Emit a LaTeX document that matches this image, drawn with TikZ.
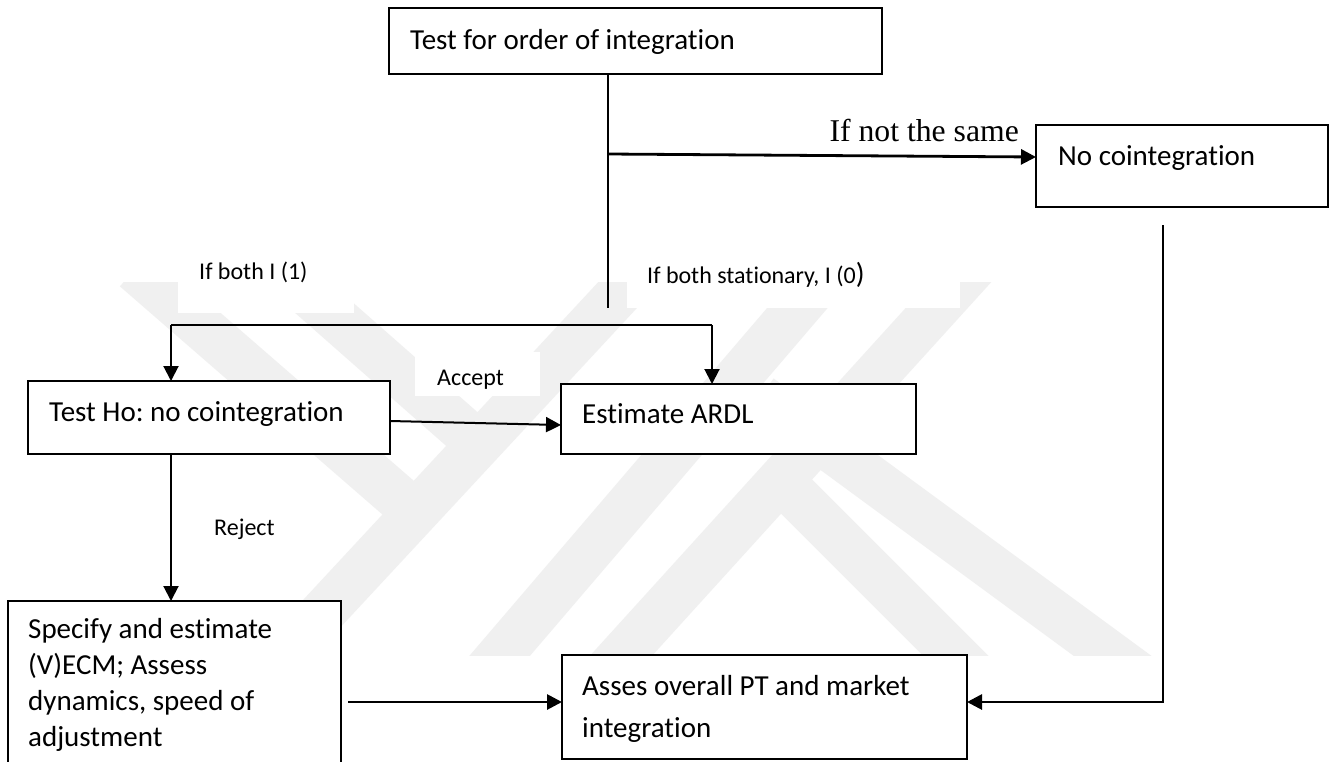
\documentclass[tikz,border=0pt]{standalone}
\usepackage{fontspec}
\setmainfont{Carlito}[Ligatures=NoCommon]
\newfontfamily\tnr{Liberation Serif}
\usetikzlibrary{arrows.meta}
\begin{document}
\frenchspacing
\begin{tikzpicture}[x=1pt,y=-1pt,
  box/.style={draw=black,line width=2pt,fill=white,inner sep=0pt,outer sep=0pt,anchor=north west},
  boxtxt/.style={font=\fontsize{29}{35.7}\selectfont,inner sep=0pt,anchor=base west,align=left},
  lbl/.style={font=\fontsize{24}{29}\selectfont,inner sep=0pt,anchor=base west},
  arr/.style={line width=2pt,-{Triangle[length=15pt,width=15pt]}},
  arrthick/.style={line width=2.8pt,-{Triangle[length=15pt,width=15pt]}},
  conn/.style={line width=2pt},
  wm/.style={draw=black!6,line width=46pt,line cap=butt}]
\useasboundingbox (0,0) rectangle (1330,761);
\clip (0,0) rectangle (1330,761);
\fill[white] (0,0) rectangle (1330,761);

% faint watermark
\begin{scope}
\clip (0,282) rectangle (1330,655);
\draw[wm] (262,678) -- (652,258);
\draw[wm] (479,680) -- (841,257);
\draw[wm] (599,680) -- (983,257);
\draw[wm] (135,269) -- (425,521);
\draw[wm] (280,269) -- (480,445);
\draw[wm] (760,397) -- (1140,676);
\draw[wm] (780,480) -- (975,675);
\end{scope}
\fill[white] (178,245) rectangle (354,313);
\fill[white] (627,245) rectangle (960,308);
\fill[white] (415,352) rectangle (540,396);

% boxes
\node[box,minimum width=493pt,minimum height=66pt] (top) at (389,8) {};
\node[box,minimum width=292pt,minimum height=82pt] (nocoint) at (1036,125) {};
\node[box,minimum width=362pt,minimum height=73pt] (testho) at (28,381) {};
\node[box,minimum width=355pt,minimum height=70pt] (ardl) at (561,384) {};
\node[box,minimum width=333pt,minimum height=220pt] (specify) at (8,601) {};
\node[box,minimum width=405pt,minimum height=104pt] (asses) at (562,655) {};

% box texts
\node[boxtxt] (toptxt) at (410,49) {Test for order of integration};
\node[boxtxt] (nocointtxt) at (1058,165) {No cointegration};
\node[boxtxt] (testhotxt) at (49,421) {Test Ho: no cointegration};
\node[boxtxt] (ardltxt) at (582,423) {Estimate ARDL};
\node[boxtxt] (specifytxt) at (28,746) {Specify and estimate\\(V)ECM; Assess\\dynamics, speed of\\adjustment};
\node[boxtxt,font=\fontsize{29}{42}\selectfont] (assestxt) at (582,737) {Asses overall PT and market\\integration};

% labels
\node[lbl] (l1) at (199,279) {If both I (1)};
\node[lbl] (l0) at (647,283) {If both stationary, I (0{\fontsize{29}{30}\selectfont)}};
\node[lbl] (lacc) at (437,385) {Accept};
\node[lbl] (lrej) at (214,535) {Reject};
\node[font=\tnr\fontsize{31.7}{38}\selectfont,inner sep=0pt,anchor=base east] (lnot) at (1019,141) {If not the same};

% coordinates
\coordinate (vtop) at (608,308);
\coordinate (vfork) at (608,154);
\coordinate (sl) at (171,325);
\coordinate (sr) at (712,325);
\coordinate (sa) at (348,702);
\coordinate (nc) at (1163,225);

% connectors
\draw[conn] (top.south -| vtop) -- (vtop);
\draw[arrthick] (vfork) -- ([yshift=-3pt]nocoint.west |- vfork);
\draw[conn] (sl) -- (sr);
\draw[arr] (sl) -- (sl |- testho.north);
\draw[arr] (sr) -- (sr |- ardl.north);
\draw[arr] ([yshift=-3.5pt]testho.east) -- ([yshift=-6pt]ardl.west);
\draw[arr] (testho.south -| sl) -- (specify.north -| sl);
\draw[arrthick] (sa) -- (sa -| asses.west);
\draw[arrthick] (nc) |- (sa -| asses.east);
\end{tikzpicture}
\end{document}
